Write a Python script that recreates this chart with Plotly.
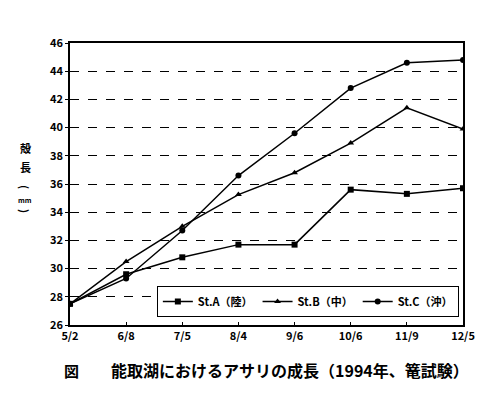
import plotly.graph_objects as go

dates = ["5/2", "6/8", "7/5", "8/4", "9/6", "10/6", "11/9", "12/5"]
st_a = [27.5, 29.6, 30.8, 31.7, 31.7, 35.6, 35.3, 35.7]
st_b = [27.5, 30.5, 33.0, 35.25, 36.8, 38.9, 41.4, 39.9]
st_c = [27.5, 29.3, 32.7, 36.6, 39.6, 42.8, 44.6, 44.8]
names = ["St.A（陸）", "St.B（中）", "St.C（沖）"]
y_ticks = [26, 28, 30, 32, 34, 36, 38, 40, 42, 44, 46]

FONT = "Noto Sans CJK JP"

fig = go.Figure()
for vals, nm, sym in [(st_a, names[0], "square"), (st_b, names[1], "triangle-up"), (st_c, names[2], "circle")]:
    fig.add_trace(go.Scatter(
        x=dates, y=vals, name=nm, mode="lines+markers",
        line=dict(color="black", width=1.5),
        marker=dict(symbol=sym, size=6, color="black"),
    ))

fig.update_layout(
    width=492, height=405,
    margin=dict(l=62, r=37, t=35, b=88),
    paper_bgcolor="white", plot_bgcolor="white",
    font=dict(family=FONT, color="black", size=12),
    showlegend=True,
    legend=dict(
        orientation="h", x=0.221, y=0.138, xanchor="left", yanchor="top",
        bordercolor="black", borderwidth=1, bgcolor="white",
        font=dict(family=FONT, size=11, color="black", weight="bold"),
        itemwidth=30, tracegroupgap=0,
    ),
    xaxis=dict(
        type="category", range=[0, 7], showgrid=False,
        showline=True, linecolor="black", linewidth=1.5, mirror=True,
        ticks="inside", ticklen=3, tickcolor="black",
        tickfont=dict(family=FONT, size=11, color="black", weight="bold"),
    ),
    yaxis=dict(
        range=[26, 46], tickvals=y_ticks, showgrid=True,
        gridcolor="black", gridwidth=1, griddash="dash",
        showline=True, linecolor="black", linewidth=1.5, mirror=True,
        ticks="outside", ticklen=3, tickcolor="black",
        tickfont=dict(family=FONT, size=11, color="black", weight="bold"),
        zeroline=False,
    ),
)

# vertical y-axis title: 殻長（mm）
title_parts = [("<b>殻</b>", 0.627, 0, 11), ("<b>長</b>", 0.562, 0, 11),
               ("<b>(</b>", 0.489, 90, 11), ("<b>mm</b>", 0.443, 0, 7),
               ("<b>)</b>", 0.404, 90, 11)]
for txt, yy, ang, sz in title_parts:
    fig.add_annotation(
        xref="paper", yref="paper", x=-0.1145, y=yy, xanchor="center", yanchor="middle",
        text=txt, textangle=ang, showarrow=False, borderpad=0,
        font=dict(family=FONT, size=sz, color="black"),
    )

fig.add_annotation(
    xref="paper", yref="paper", x=0.005, y=-0.16, xanchor="center", yanchor="middle",
    text="<b>図</b>", showarrow=False, font=dict(family=FONT, size=15, color="black"),
)
fig.add_annotation(
    xref="paper", yref="paper", x=0.098, y=-0.16, xanchor="left", yanchor="middle",
    text="<b>能取湖におけるアサリの成長（1994年、篭試験）</b>", showarrow=False,
    font=dict(family=FONT, size=16, color="black"),
)

fig.write_html("out.html")
